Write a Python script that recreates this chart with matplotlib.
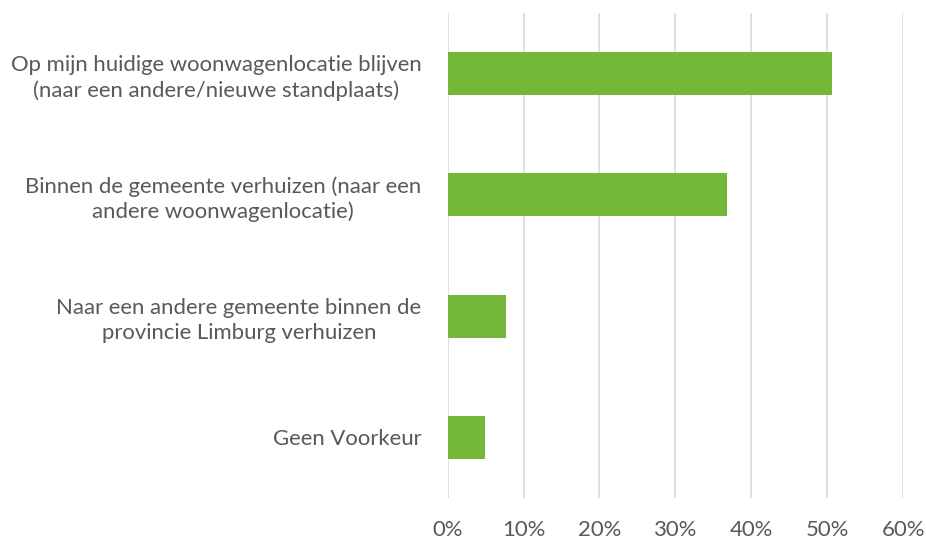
import matplotlib.pyplot as plt
import matplotlib.ticker as mticker

categories = [
    "Op mijn huidige woonwagenlocatie blijven\n(naar een andere/nieuwe standplaats)",
    "Binnen de gemeente verhuizen (naar een\nandere woonwagenlocatie)",
    "Naar een andere gemeente binnen de\nprovincie Limburg verhuizen",
    "Geen Voorkeur",
]
shares = [0.507, 0.368, 0.077, 0.049]
x_ticks = [0, 0.1, 0.2, 0.3, 0.4, 0.5, 0.6]

plt.rcParams['font.family'] = ['Lato', 'DejaVu Sans']
text_color = '#595959'

fig = plt.figure(figsize=(9.26, 5.4), dpi=100)
ax = fig.add_axes([0.4835, 0.0778, 0.4917, 0.8981])

pos = list(range(len(categories)))
ax.barh(pos, shares, height=0.355, color='#75B739', zorder=3)

ax.set_ylim(len(categories) - 0.5, -0.5)
ax.set_xlim(0, 0.6)
ax.set_xticks(x_ticks)
ax.xaxis.set_major_formatter(mticker.PercentFormatter(1.0, decimals=0))
ax.set_yticks(pos)
ax.set_yticklabels(categories, multialignment='center', linespacing=1.3)

ax.grid(axis='x', color='#d9d9d9', linewidth=1.2, zorder=0)
for s in ax.spines.values():
    s.set_visible(False)
ax.tick_params(axis='both', length=0, labelsize=15.9, labelcolor=text_color)
ax.tick_params(axis='x', pad=16)
ax.tick_params(axis='y', pad=19)

fig.savefig('out.png', dpi=100)
